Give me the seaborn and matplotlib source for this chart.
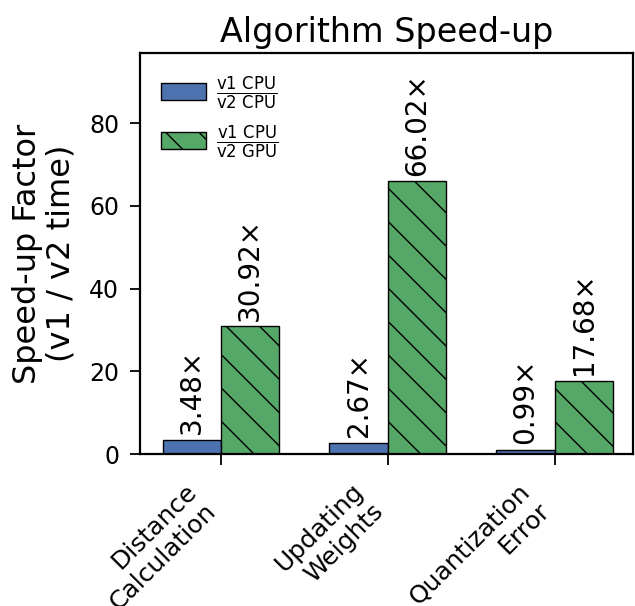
import numpy as np
import pandas as pd
import seaborn as sns
import matplotlib.pyplot as plt
from matplotlib.patches import Patch

# values
tasks = ["Distance\nCalculation", "Updating\nWeights", "Quantization\nError"]
cpu_speedup = [3.48, 2.67, 0.99]
gpu_speedup = [30.92, 66.02, 17.68]
variants = ["cpu", "gpu"]
legend_labels = [
    r"$\frac{\mathrm{v1\ CPU}}{\mathrm{v2\ CPU}}$",
    r"$\frac{\mathrm{v1\ CPU}}{\mathrm{v2\ GPU}}$",
]
colors = ["#4C72B0", "#55A868"]

df = pd.DataFrame({
    "task": tasks * 2,
    "speedup": cpu_speedup + gpu_speedup,
    "variant": [variants[0]] * len(tasks) + [variants[1]] * len(tasks),
})

sns.set_style("ticks")
plt.rcParams["font.family"] = ["DejaVu Sans"]
plt.rcParams["font.sans-serif"] = ["DejaVu Sans"]
for key in ["text.color", "axes.labelcolor", "xtick.color", "ytick.color", "axes.edgecolor"]:
    plt.rcParams[key] = "black"
plt.rcParams["axes.linewidth"] = 1.6
plt.rcParams["xtick.major.width"] = 1.3
plt.rcParams["ytick.major.width"] = 1.3
plt.rcParams["xtick.major.size"] = 8
plt.rcParams["ytick.major.size"] = 7
plt.rcParams["hatch.linewidth"] = 1.0
plt.rcParams["mathtext.fontset"] = "dejavusans"

fig = plt.figure(figsize=(6.35, 6.06), dpi=100)
ax = fig.add_axes([140 / 635, (606 - 454) / 606, (633 - 140) / 635, (454 - 53) / 606])

sns.barplot(
    data=df, x="task", y="speedup", hue="variant",
    hue_order=variants, palette=colors, width=0.7, saturation=1,
    edgecolor="black", linewidth=1.0, legend=False, ax=ax,
)

for patch in ax.containers[1].patches:
    patch.set_hatch("\\")

for cont, vals in zip(ax.containers, [cpu_speedup, gpu_speedup]):
    ax.bar_label(cont, labels=[f"{v:.2f}×" for v in vals],
                 rotation=90, padding=4, fontsize=20)

ax.set_xlim(-0.485, 2.47)
ax.set_ylim(0, 97)
ax.set_yticks([0, 20, 40, 60, 80])
ax.tick_params(axis="y", labelsize=17, pad=8)
ax.tick_params(axis="x", pad=10)
ax.set_xticks(range(len(tasks)))
ax.set_xticklabels(tasks, rotation=45, ha="right", fontsize=18)
ax.set_xlabel("")
ax.set_ylabel("Speed-up Factor\n(v1 / v2 time)", fontsize=23,
              linespacing=1.1, labelpad=9)
ax.set_title("Algorithm Speed-up", fontsize=24, pad=8)

handles = [
    Patch(facecolor=colors[0], edgecolor="black"),
    Patch(facecolor=colors[1], edgecolor="black", hatch="\\"),
]
ax.legend(handles, legend_labels, loc="upper left", frameon=False,
          fontsize=17, labelspacing=0.5, handletextpad=0.4,
          handlelength=1.9)

fig.savefig("out.png", dpi=100)
